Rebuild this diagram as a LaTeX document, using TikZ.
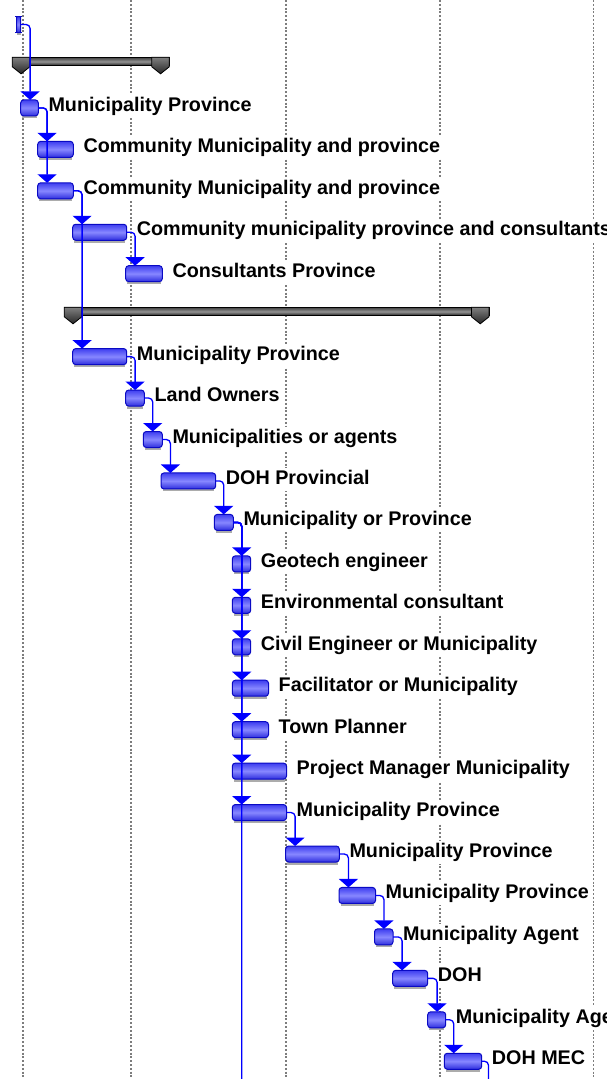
\documentclass[tikz,border=0pt]{standalone}
\usepackage{fontspec}
\setmainfont{Liberation Sans}
\usetikzlibrary{arrows.meta}
\definecolor{barA}{RGB}{62,62,240}
\definecolor{barB}{RGB}{135,135,255}
\definecolor{barC}{RGB}{45,45,222}
\definecolor{barline}{RGB}{10,10,195}
\definecolor{connc}{RGB}{0,0,255}
\definecolor{gridc}{RGB}{125,125,125}
\definecolor{shadowc}{RGB}{172,172,172}
\newcommand{\ganttrow}[5]{%
  \pgfmathsetmacro{\cy}{24.5+41.45*#2}%
  \pgfmathsetmacro{\bw}{#4-#3}%
  \fill[shadowc] (#3+1.5,\cy+8.5) rectangle (#4-1.5,\cy+11);%
  \node[taskbar, minimum width=\bw pt, anchor=north west] (#1) at (#3,\cy-7.5) {};%
  \node[lbl] (#1l) at (#4+9,\cy+4) {#5};%
}
\newcommand{\sumbar}[4]{%
  \pgfmathsetmacro{\sw}{#3-#2}%
  \node[sumbody, minimum width=\sw pt, anchor=north west] (#1) at (#2,#4) {};%
  \path[sumcap] (#2,#4) -- ++(17.5,0) -- ++(0,9.5) -- ++(-8.75,7) -- ++(-8.75,-7) -- cycle;%
  \path[sumcap] (#3-17.5,#4) -- ++(17.5,0) -- ++(0,9.5) -- ++(-8.75,7) -- ++(-8.75,-7) -- cycle;%
}
\begin{document}
\begin{tikzpicture}[x=1pt,y=-1pt,
  taskbar/.style={rectangle, rounded corners=3pt, draw=barline, line width=1pt,
    minimum height=16pt, inner sep=0pt, outer sep=0pt,
    top color=barA, bottom color=barC, middle color=barB},
  lbl/.style={anchor=base west, fill=white, inner xsep=1pt, inner ysep=2pt,
    text height=14.5pt, text depth=4.5pt,
    font=\bfseries\fontsize{19.75}{22}\selectfont},
  sumbody/.style={rectangle, draw=black, line width=0.8pt, minimum height=8.5pt,
    inner sep=0pt, outer sep=0pt, top color=black!75, bottom color=black!90, middle color=black!42},
  sumcap/.style={draw=black, line width=0.8pt, top color=black!50, bottom color=black!85},
  gridline/.style={draw=gridc, line width=1.6pt, dash pattern=on 2pt off 1.8pt},
  conn/.style={draw=connc, line width=1.3pt, rounded corners=4pt,
    -{Triangle[width=19pt,length=8.5pt]}},
  connplain/.style={draw=connc, line width=1.3pt, rounded corners=4pt},
  capline/.style={draw=barline, line width=1.2pt}
]
\clip (0,0) rectangle (607,1079);
\fill[white] (0,0) rectangle (607,1079);
% grid
\foreach \gx in {22.7,130.7,286,440,593.3}{\draw[gridline] (\gx,0) -- (\gx,1079);}
% row 0 tiny task
\fill[shadowc] (17,33) rectangle (20.5,35);
\node[taskbar, rounded corners=1pt, minimum width=4pt, minimum height=16pt] (t0) at (18.5,24.5) {};
\draw[capline] ([xshift=-1.5pt]t0.north west) -- ([xshift=1.5pt]t0.north east);
\draw[capline] ([xshift=-1.5pt]t0.south west) -- ([xshift=1.5pt]t0.south east);
% tasks
\ganttrow{t2}{2}{20.7}{38.3}{Municipality Province}
\ganttrow{t3}{3}{37.7}{73.3}{Community Municipality and province}
\ganttrow{t4}{4}{37.7}{73.3}{Community Municipality and province}
\ganttrow{t5}{5}{72.7}{126.7}{Community municipality province and consultants}
\ganttrow{t6}{6}{125.7}{162.3}{Consultants Province}
\ganttrow{t8}{8}{72.7}{126.7}{Municipality Province}
\ganttrow{t9}{9}{125.7}{144.3}{Land Owners}
\ganttrow{t10}{10}{143.3}{162.3}{Municipalities or agents}
\ganttrow{t11}{11}{161}{215.7}{DOH Provincial}
\ganttrow{t12}{12}{214.3}{233.3}{Municipality or Province}
\ganttrow{t13}{13}{232.3}{250.7}{Geotech engineer}
\ganttrow{t14}{14}{232.3}{250.7}{Environmental consultant}
\ganttrow{t15}{15}{232.3}{250.7}{Civil Engineer or Municipality}
\ganttrow{t16}{16}{232.3}{268.5}{Facilitator or Municipality}
\ganttrow{t17}{17}{232.3}{268.5}{Town Planner}
\ganttrow{t18}{18}{232.3}{286.5}{Project Manager Municipality}
\ganttrow{t19}{19}{232.3}{286.5}{Municipality Province}
\ganttrow{t20}{20}{285.7}{339.3}{Municipality Province}
\ganttrow{t21}{21}{339}{375.5}{Municipality Province}
\ganttrow{t22}{22}{374.5}{393}{Municipality Agent}
\ganttrow{t23}{23}{392.7}{427.7}{DOH}
\ganttrow{t24}{24}{427.7}{445.7}{Municipality Agent}
\ganttrow{t25}{25}{444.3}{481.7}{DOH MEC}
% summary bars
\sumbar{s1}{12.3}{169.3}{57.3}
\sumbar{s2}{64.3}{489}{307.3}
% connectors
\coordinate (end12) at (241.7,1090);
\coordinate (end25) at (488.5,1090);
\draw[conn] (t0.east) -| ([xshift=9.4pt]t2.north west);
\draw[conn] (t2.east) -| ([xshift=9.4pt]t3.north west);
\draw[conn] (t2.east) -| ([xshift=9.4pt]t4.north west);
\draw[conn] (t4.east) -| ([xshift=9.4pt]t5.north west);
\draw[conn] (t4.east) -| ([xshift=9.4pt]t8.north west);
\draw[conn] (t5.east) -| ([xshift=9.4pt]t6.north west);
\draw[conn] (t8.east) -| ([xshift=9.4pt]t9.north west);
\draw[conn] (t9.east) -| ([xshift=9.4pt]t10.north west);
\draw[conn] (t10.east) -| ([xshift=9.4pt]t11.north west);
\draw[conn] (t11.east) -| ([xshift=9.4pt]t12.north west);
\draw[connplain] (t12.east) -| (end12);
\foreach \s in {t13,t14,t15,t16,t17,t18,t19}{
  \draw[conn] (t12.east) -| ([xshift=9.4pt]\s.north west);
}
\draw[conn] (t19.east) -| ([xshift=9.4pt]t20.north west);
\draw[conn] (t20.east) -| ([xshift=9.4pt]t21.north west);
\draw[conn] (t21.east) -| ([xshift=9.4pt]t22.north west);
\draw[conn] (t22.east) -| ([xshift=9.4pt]t23.north west);
\draw[conn] (t23.east) -| ([xshift=9.4pt]t24.north west);
\draw[conn] (t24.east) -| ([xshift=9.4pt]t25.north west);
\draw[connplain] (t25.east) -| (end25);
\end{tikzpicture}
\end{document}
